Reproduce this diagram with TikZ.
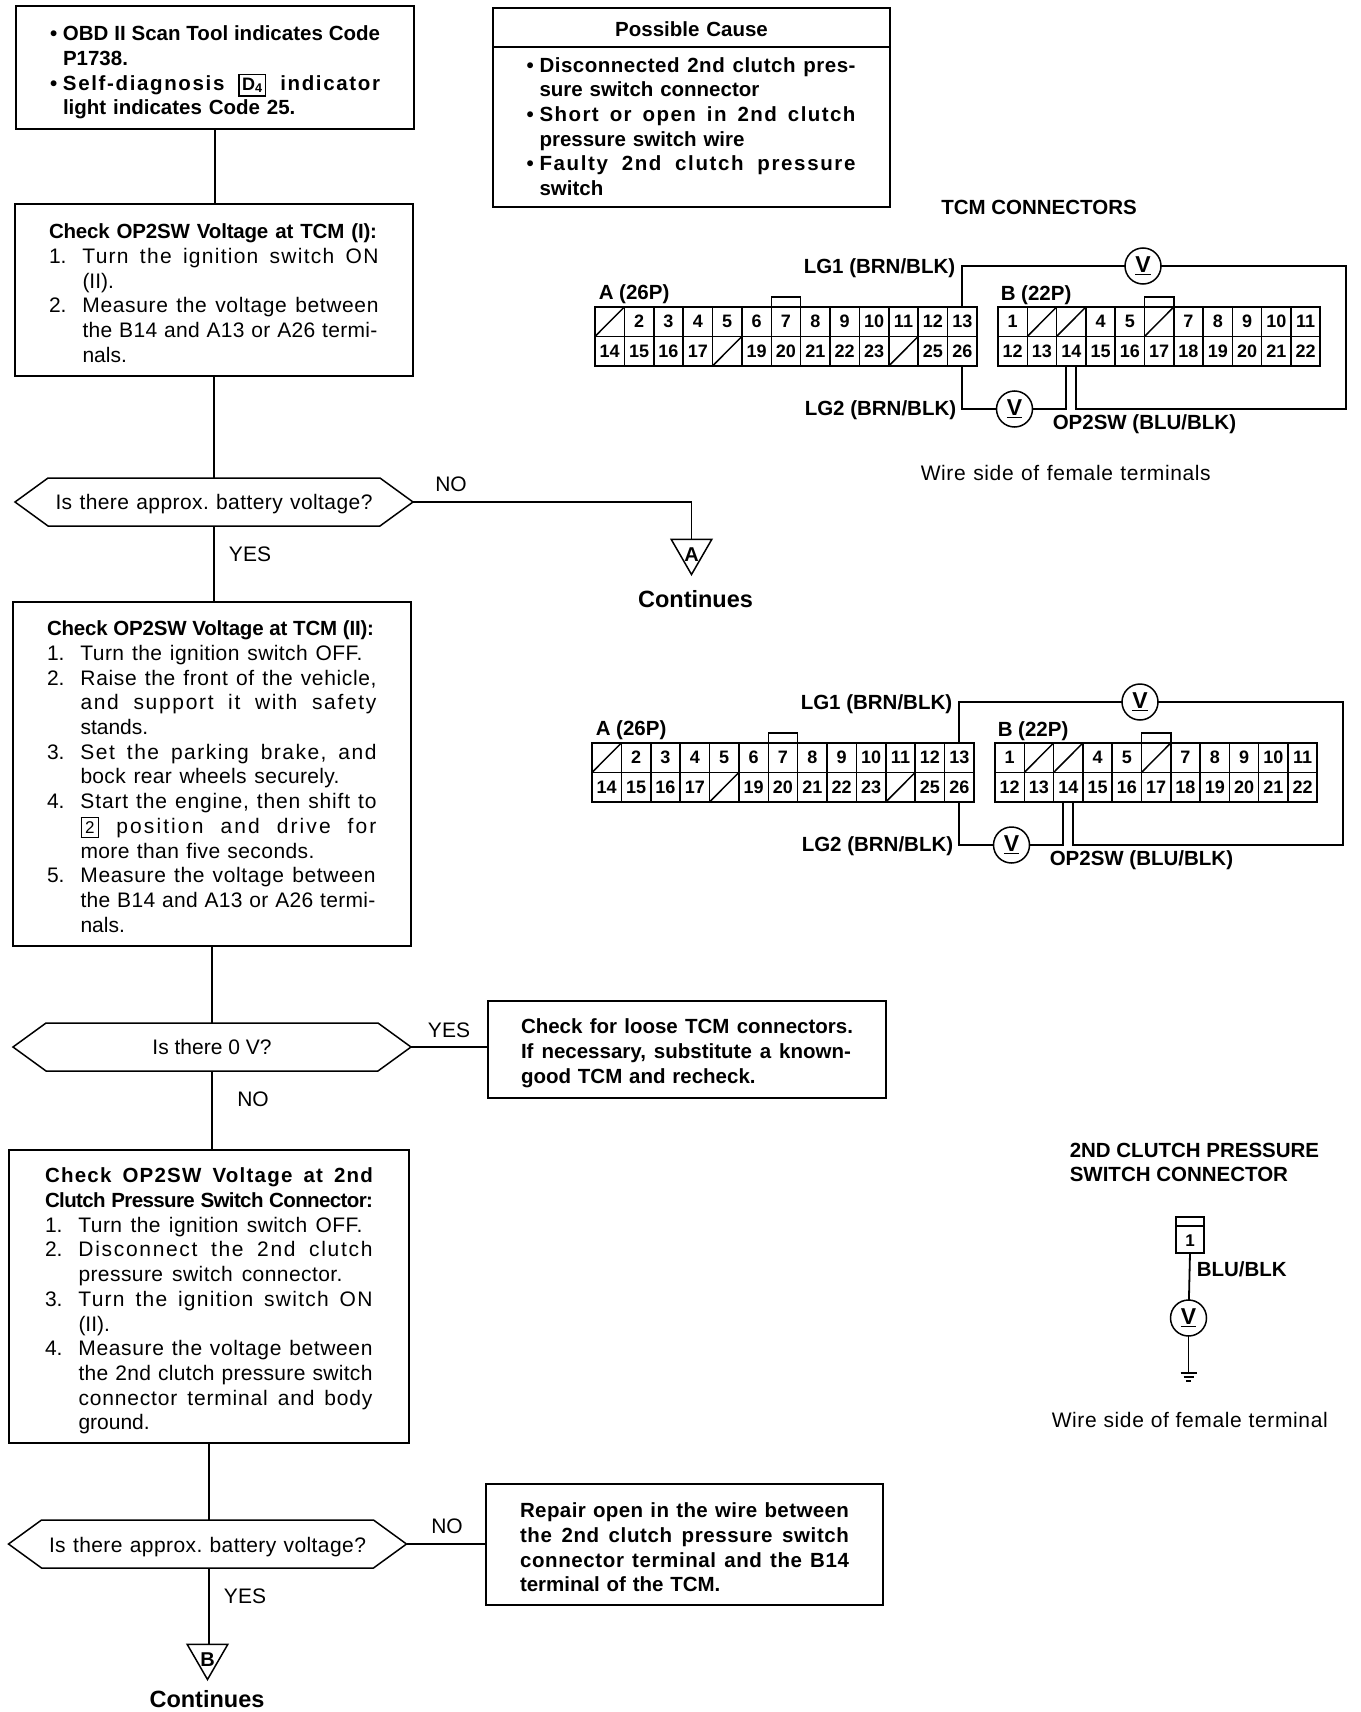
\documentclass[tikz,border=0pt]{standalone}
\usepackage{fontspec}
\setmainfont{Liberation Sans}
\usetikzlibrary{shapes.geometric,shapes.symbols}

\newlength{\stepw}
\setlength{\stepw}{33.5pt}
\newcommand{\bodyfont}{\fontsize{21}{24.7}\selectfont}
\newcommand{\headfont}{\fontsize{20.5}{24.7}\selectfont\bfseries}
\newcommand{\bigfont}{\fontsize{23.5}{24.7}\selectfont\bfseries}
\newcommand{\fitline}[3][0]{\makebox[#2][s]{\addfontfeatures{LetterSpace=#1}\frenchspacing\spaceskip=.278em plus 1fil minus .1em\relax #3}}
\newcommand{\stepl}[2]{\makebox[\stepw][l]{#1}#2}
\newcommand{\contl}[1]{\hspace*{\stepw}#1}
\newcommand{\bull}[1]{\makebox[13pt][l]{•}#1}
\newcommand{\keybox}[2][2.5pt]{{\setlength{\fboxsep}{#1}\setlength{\fboxrule}{1.2pt}\fbox{\fontsize{17}{17}\selectfont #2}}}
\newcommand{\lowered}[2]{\raisebox{0pt}[#1][0pt]{#2}}

\tikzset{
    box/.style={draw, rectangle, inner sep=0pt, outer sep=0pt, align=left, font=\bodyfont},
    hexnode/.style={draw, signal, signal to=west and east, signal pointer angle=72,
        minimum width=398pt, minimum height=48pt, inner sep=0pt, outer sep=0pt, font=\bodyfont},
    contnode/.style={draw, regular polygon, regular polygon sides=3, shape border rotate=180,
        minimum size=47pt, inner sep=0pt, outer sep=0pt, font=\fontsize{20}{20}\selectfont\bfseries},
    meter/.style={draw, circle, minimum size=36pt, inner sep=0pt, outer sep=0pt, font=\fontsize{23}{23}\selectfont\bfseries},
    cell/.style={draw, rectangle, minimum width=#1, minimum height=29.5pt, inner sep=0pt, outer sep=0pt,
        font=\fontsize{18}{18}\selectfont\bfseries},
    txt/.style={inner sep=0pt, font=\bodyfont},
    boldtxt/.style={inner sep=0pt, font=\headfont},
    wire/.style={line width=1.8pt}
}

\begin{document}
\begin{tikzpicture}[x=1pt, y=-1pt, line width=1.5pt]
    \useasboundingbox[fill=white] (0,0) rectangle (1360,1712);

    % Flow boxes
    \node[box, minimum width=398, minimum height=123, text width=330, font=\headfont] (code) at (215,67.5) {%
        \rule{0pt}{25pt}\bull{\fitline{317pt}{OBD II Scan Tool indicates Code}}\\
        \hspace*{13pt}P1738.\\
        \bull{\fitline[8]{317pt}{Self-diagnosis \keybox{\fontsize{18}{18}\selectfont D\textsubscript{4}} indicator}}\\
        \hspace*{13pt}light indicates Code 25.};
    \node[box, minimum width=398, minimum height=172, text width=330] (chkone) at (214,290) {%
        \rule{0pt}{21pt}{\headfont\fitline[-1]{328pt}{Check OP2SW Voltage at TCM (I):}}\\
        \stepl{1.}{\fitline[6]{296pt}{Turn the ignition switch ON}}\\
        \contl{(II).}\\
        \stepl{2.}{\fitline[3]{296pt}{Measure the voltage between}}\\
        \contl{\fitline[1.5]{295pt}{the B14 and A13 or A26 termi-}}\\
        \contl{nals.}};
    \node[hexnode] (hexone) at (214,502) {\lowered{15pt}{\fitline[2]{317pt}{Is there approx. battery voltage?}}};
    \node[box, minimum width=398, minimum height=344, text width=330] (chktwo) at (212,774) {%
        \rule{0pt}{20pt}{\headfont\fitline[-1]{327pt}{Check OP2SW Voltage at TCM (II):}}\\
        \stepl{1.}{\fitline[2]{282pt}{Turn the ignition switch OFF.}}\\
        \stepl{2.}{\fitline[3]{296pt}{Raise the front of the vehicle,}}\\
        \contl{\fitline[8]{296pt}{and support it with safety}}\\
        \contl{stands.}\\
        \stepl{3.}{\fitline[7]{296pt}{Set the parking brake, and}}\\
        \contl{\fitline[1.5]{259pt}{bock rear wheels securely.}}\\
        \stepl{4.}{\fitline[4]{296pt}{Start the engine, then shift to}}\\
        \contl{\fitline[10]{296pt}{\keybox[3.5pt]{2} position and drive for}}\\
        \contl{\fitline[2]{234pt}{more than five seconds.}}\\
        \stepl{5.}{\fitline[3]{295pt}{Measure the voltage between}}\\
        \contl{\fitline[1.5]{295pt}{the B14 and A13 or A26 termi-}}\\
        \contl{nals.}};
    \node[hexnode] (hextwo) at (212,1047) {\lowered{15pt}{Is there 0 V?}};
    \node[box, minimum width=398, minimum height=97, text width=332, font=\headfont] (loose) at (687,1049.5) {%
        \rule{0pt}{22pt}\fitline{332pt}{Check for loose TCM connectors.}\\
        \fitline{330pt}{If necessary, substitute a known-}\\
        good TCM and recheck.};
    \node[box, minimum width=400, minimum height=293, text width=328] (chkthree) at (209,1296.5) {%
        \rule{0pt}{24pt}{\headfont\fitline[6]{328pt}{Check OP2SW Voltage at 2nd}}\\
        {\headfont\fitline[-3]{328pt}{Clutch Pressure Switch Connector:}}\\
        \stepl{1.}{\fitline[2]{284pt}{Turn the ignition switch OFF.}}\\
        \stepl{2.}{\fitline[8]{294pt}{Disconnect the 2nd clutch}}\\
        \contl{\fitline[2]{264pt}{pressure switch connector.}}\\
        \stepl{3.}{\fitline[6]{294pt}{Turn the ignition switch ON}}\\
        \contl{(II).}\\
        \stepl{4.}{\fitline[3]{294pt}{Measure the voltage between}}\\
        \contl{\fitline[1.5]{294pt}{the 2nd clutch pressure switch}}\\
        \contl{\fitline[4]{294pt}{connector terminal and body}}\\
        \contl{ground.}};
    \node[hexnode] (hexthree) at (207.5,1544) {\lowered{16pt}{\fitline[2]{317pt}{Is there approx. battery voltage?}}};
    \node[box, minimum width=397, minimum height=121, text width=329, font=\headfont] (repair) at (684.5,1544.5) {%
        \rule{0pt}{21pt}\fitline[2]{329pt}{Repair open in the wire between}\\
        \fitline[3]{329pt}{the 2nd clutch pressure switch}\\
        \fitline[3]{329pt}{connector terminal and the B14}\\
        terminal of the TCM.};
    \node[box, minimum width=397, minimum height=199, text width=330, font=\headfont] (cause) at (691.5,107.5) {%
        \rule{0pt}{17pt}\makebox[330pt]{Possible Cause}\\[11.4pt]
        \bull{\fitline[2.5]{316pt}{Disconnected 2nd clutch pres-}}\\
        \hspace*{13pt}sure switch connector\\
        \bull{\fitline[7]{316pt}{Short or open in 2nd clutch}}\\
        \hspace*{13pt}pressure switch wire\\
        \bull{\fitline[8]{316pt}{Faulty 2nd clutch pressure}}\\
        \hspace*{13pt}switch};
    \coordinate (causel) at (cause.west |- 0,47);
    \coordinate (causer) at (cause.east |- 0,47);
    \draw (causel) -- (causer);

    % Continuation marks
    \node[contnode] (conta) at (691.5,551) {\raisebox{-10pt}[0pt][0pt]{A}};
    \node[txt, font=\bigfont] (contatxt) at (695.5,599) {Continues};
    \node[contnode] (contb) at (207.5,1656) {\raisebox{-10pt}[0pt][0pt]{B}};
    \node[txt, font=\bigfont] (contbtxt) at (207,1699) {Continues};

    % Flow lines
    \draw (code.south) -- (code.south |- chkone.north);
    \draw (hexone.north) -- (hexone.north |- chkone.south);
    \draw (hexone.south) -- (hexone.south |- chktwo.north);
    \draw (chktwo.south) -- (chktwo.south -| hextwo.north) -- (hextwo.north);
    \draw (hextwo.south) -- (hextwo.south |- chkthree.north);
    \draw (chkthree.south) -- (chkthree.south |- hexthree.north);
    \draw (chkthree.south |- hexthree.south) -- (chkthree.south |- contb.north);
    \draw (hexone.east) -| (conta.north);
    \draw (hextwo.east) -- (hextwo.east -| loose.west);
    \draw (hexthree.east) -- (hexthree.east -| repair.west);

    % Branch labels
    \node[txt] (nolabone) at (451,484) {NO};
    \node[txt] (yeslabone) at (250,554) {YES};
    \node[txt] (yeslabtwo) at (449,1030) {YES};
    \node[txt] (nolabtwo) at (253,1099) {NO};
    \node[txt] (nolabthree) at (447,1526) {NO};
    \node[txt] (yeslabthree) at (245,1596) {YES};

    % TCM connectors
    \node[boldtxt] (tcmhead) at (1039,207) {TCM CONNECTORS};
    \foreach \cn/\dx/\dy in {u/0/0,l/-3/436} {
        \begin{scope}[shift={(\dx,\dy)}]
            % A side
            \foreach \n in {2,...,17,19,20,21,22,23,25,26} {
                \pgfmathtruncatemacro{\col}{mod(\n-1,13)}
                \pgfmathtruncatemacro{\row}{(\n-1)/13}
                \node[cell=29.38pt] (\cn a\n) at ({595+(\col+0.5)*29.38},{321.7+\row*29.5}) {\n};
            }
            \foreach \n in {1,18,24} {
                \pgfmathtruncatemacro{\col}{mod(\n-1,13)}
                \pgfmathtruncatemacro{\row}{(\n-1)/13}
                \node[cell=29.38pt] (\cn a\n) at ({595+(\col+0.5)*29.38},{321.7+\row*29.5}) {};
                \draw (\cn a\n.south west) -- (\cn a\n.north east);
            }
            % B side
            \foreach \n in {1,4,5,7,8,...,22} {
                \pgfmathtruncatemacro{\col}{mod(\n-1,11)}
                \pgfmathtruncatemacro{\row}{(\n-1)/11}
                \node[cell=29.3pt] (\cn b\n) at ({998+(\col+0.5)*29.3},{321.7+\row*29.5}) {\n};
            }
            \foreach \n in {2,3,6} {
                \pgfmathtruncatemacro{\col}{mod(\n-1,11)}
                \node[cell=29.3pt] (\cn b\n) at ({998+(\col+0.5)*29.3},321.7) {};
                \draw (\cn b\n.south west) -- (\cn b\n.north east);
            }
            \draw[wire] (\cn a1.north west) rectangle (\cn a26.south east);
            \draw[wire] (\cn b1.north west) rectangle (\cn b22.south east);
            \draw (\cn a7.north west) -- ++(0,-10) -| (\cn a7.north east);
            \draw (\cn b6.north west) -- ++(0,-10) -| (\cn b6.north east);

            % Meters and wires
            \node[meter] (\cn vone) at (1143,266) {\underline{V}};
            \node[meter] (\cn vtwo) at (1014.5,409) {\underline{V}};
            \coordinate (\cn cornerup) at (1346,266);
            \coordinate (\cn cornerdn) at (1346,409);
            \coordinate (\cn bleft) at ([xshift=-5pt]\cn b14.south);
            \coordinate (\cn bright) at ([xshift=5pt]\cn b14.south);
            \draw[wire] (\cn a13.north) |- (\cn vone);
            \draw[wire] (\cn vone) -- (\cn cornerup) -- (\cn cornerdn) -| (\cn bright);
            \draw[wire] (\cn a26.south) |- (\cn vtwo);
            \draw[wire] (\cn vtwo) -| (\cn bleft);

            % Labels
            \node[boldtxt, anchor=west] (\cn lgone) at (803,268.5) {LG1 (BRN/BLK)};
            \node[boldtxt, anchor=west] (\cn lgtwo) at (804,410.5) {LG2 (BRN/BLK)};
            \node[boldtxt, anchor=west] (\cn op) at (1052,424.5) {OP2SW (BLU/BLK)};
            \node[boldtxt, anchor=west] (\cn alab) at (598,294.5) {A (26P)};
            \node[boldtxt, anchor=west] (\cn blab) at (1000,295) {B (22P)};
        \end{scope}
    }
    \node[txt, anchor=west] (wireside) at (920,473) {\fitline[3]{290pt}{Wire side of female terminals}};

    % Switch connector
    \node[boldtxt, anchor=west, align=left] (swhead) at (1069,1162.5) {2ND CLUTCH PRESSURE\\SWITCH CONNECTOR};
    \node[draw, rectangle, minimum width=28, minimum height=36, inner sep=0pt, outer sep=0pt,
        font=\fontsize{17}{17}\selectfont\bfseries] (swconn) at (1190,1235) {\lowered{22pt}{1}};
    \coordinate (swtabl) at (swconn.west |- 0,1226);
    \coordinate (swtabr) at (swconn.east |- 0,1226);
    \draw (swtabl) -- (swtabr);
    \node[meter] (swv) at (1188.5,1318) {\underline{V}};
    \coordinate (gnd) at (1188.5,1373);
    \draw[wire] (swconn.south) -- (swv);
    \draw (swv) -- (gnd);
    \draw (gnd) ++(-8,0) -- ++(16,0);
    \draw (gnd) ++(-5,4) -- ++(10,0);
    \draw (gnd) ++(-2.5,8) -- ++(5,0);
    \node[boldtxt, anchor=west] (swlab) at (1196,1269) {BLU/BLK};
    \node[txt, anchor=west] (swside) at (1051,1420) {\fitline[3]{276pt}{Wire side of female terminal}};
\end{tikzpicture}
\end{document}
